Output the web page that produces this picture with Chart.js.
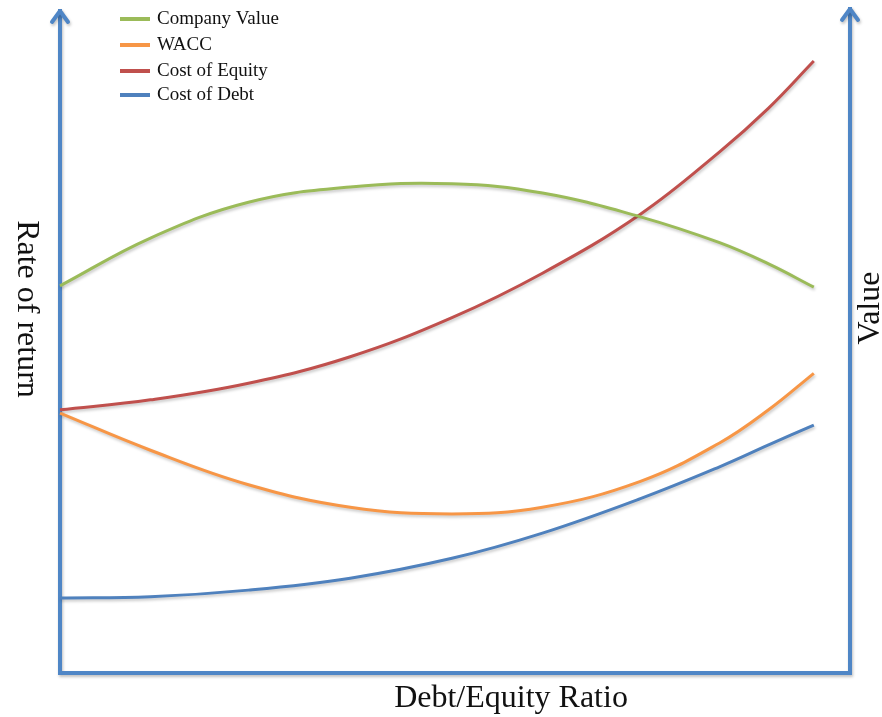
<!DOCTYPE html>
<html>
<head>
<meta charset="utf-8">
<script src="https://cdn.jsdelivr.net/npm/chart.js@4"></script>
<style>
  html, body { margin: 0; padding: 0; background: #fff; }
  #wrap { width: 882px; height: 717px; }
</style>
</head>
<body>
<div id="wrap"><canvas id="capChart"></canvas></div>
<script>
// debt/equity ratio positions (0 = no debt, 100 = right end of the curves)
const ratio = [0, 12, 25, 38.5, 52, 64, 77, 87.5, 94, 100];

const companyValue = [58.4, 65.6, 71.0, 73.3, 73.8, 72.4, 68.8, 64.9, 61.7, 58.2];
const wacc         = [39.2, 33.6, 28.4, 25.0, 24.0, 25.0, 28.9, 34.7, 39.7, 45.2];
const costEquity   = [39.7, 41.2, 43.7, 47.7, 53.6, 60.3, 69.2, 78.6, 85.2, 92.3];
const costDebt     = [11.3, 11.5, 12.5, 14.3, 17.3, 21.1, 26.3, 31.1, 34.4, 37.4];

const seriesNames = ["Company Value", "WACC", "Cost of Equity", "Cost of Debt"];
const seriesColors = ["#9bbb59", "#f79646", "#c0504d", "#4f81bd"];

const axisColor = "#4f86c6";
const serif = "'Liberation Serif', 'DejaVu Serif', serif";

const toPoints = vals => vals.map((v, i) => ({ x: ratio[i], y: v }));

// axes with arrows, axis titles and the little legend top-left
const frame = {
  id: "frame",
  beforeDatasetsDraw(chart) {
    const ctx = chart.ctx;
    const { left, right, top, bottom } = chart.chartArea;
    ctx.save();
    ctx.strokeStyle = axisColor;
    ctx.lineWidth = 4;
    ctx.lineCap = "square";
    ctx.shadowColor = "rgba(0,0,0,0.25)";
    ctx.shadowBlur = 3;
    ctx.shadowOffsetX = 1;
    ctx.shadowOffsetY = 2;

    ctx.beginPath();
    ctx.moveTo(left, top + 1);
    ctx.lineTo(left, bottom);
    ctx.lineTo(right, bottom);
    ctx.lineTo(right, top - 1);
    ctx.stroke();

    ctx.lineCap = "round";
    ctx.lineJoin = "round";
    [[left, top + 1], [right, top - 1]].forEach(([x, y]) => {
      ctx.beginPath();
      ctx.moveTo(x - 8, y + 11);
      ctx.lineTo(x, y);
      ctx.lineTo(x + 8, y + 11);
      ctx.stroke();
    });
    ctx.restore();

    // shadow for the curves
    ctx.save();
    ctx.shadowColor = "rgba(0,0,0,0.22)";
    ctx.shadowBlur = 3;
    ctx.shadowOffsetX = 1;
    ctx.shadowOffsetY = 2;
  },
  afterDatasetsDraw(chart) {
    const ctx = chart.ctx;
    ctx.restore();

    ctx.save();
    ctx.fillStyle = "#111";
    ctx.font = "32px " + serif;
    ctx.textAlign = "center";
    ctx.textBaseline = "middle";

    ctx.fillText("Debt/Equity Ratio", 511, 699);

    ctx.save();
    ctx.translate(26, 309);
    ctx.rotate(Math.PI / 2);
    ctx.fillText("Rate of return", 0, 0);
    ctx.restore();

    ctx.save();
    ctx.translate(871, 308);
    ctx.rotate(-Math.PI / 2);
    ctx.fillText("Value", 0, 0);
    ctx.restore();

    // legend
    const rows = [19, 45, 71, 95];
    ctx.font = "19px " + serif;
    ctx.textAlign = "left";
    chart.data.datasets.forEach((ds, i) => {
      const y = rows[i];
      ctx.strokeStyle = ds.borderColor;
      ctx.lineWidth = 4;
      ctx.lineCap = "butt";
      ctx.beginPath();
      ctx.moveTo(120, y);
      ctx.lineTo(150, y);
      ctx.stroke();
      ctx.fillText(ds.label, 157, y);
    });
    ctx.restore();
  }
};

new Chart(document.getElementById("capChart"), {
  type: "line",
  data: {
    datasets: [companyValue, wacc, costEquity, costDebt].map((vals, i) => ({
      label: seriesNames[i],
      data: toPoints(vals),
      borderColor: seriesColors[i],
      borderWidth: 3,
      pointRadius: 0,
      tension: 0.4,
      clip: false
    }))
  },
  options: {
    responsive: true,
    maintainAspectRatio: false,
    animation: false,
    layout: { padding: { left: 60, right: 32, top: 10, bottom: 44 } },
    scales: {
      x: { type: "linear", min: 0, max: 104.8, display: false },
      y: { min: 0, max: 100, display: false }
    },
    plugins: {
      legend: { display: false },
      tooltip: { enabled: false }
    }
  },
  plugins: [frame]
});
</script>
</body>
</html>
